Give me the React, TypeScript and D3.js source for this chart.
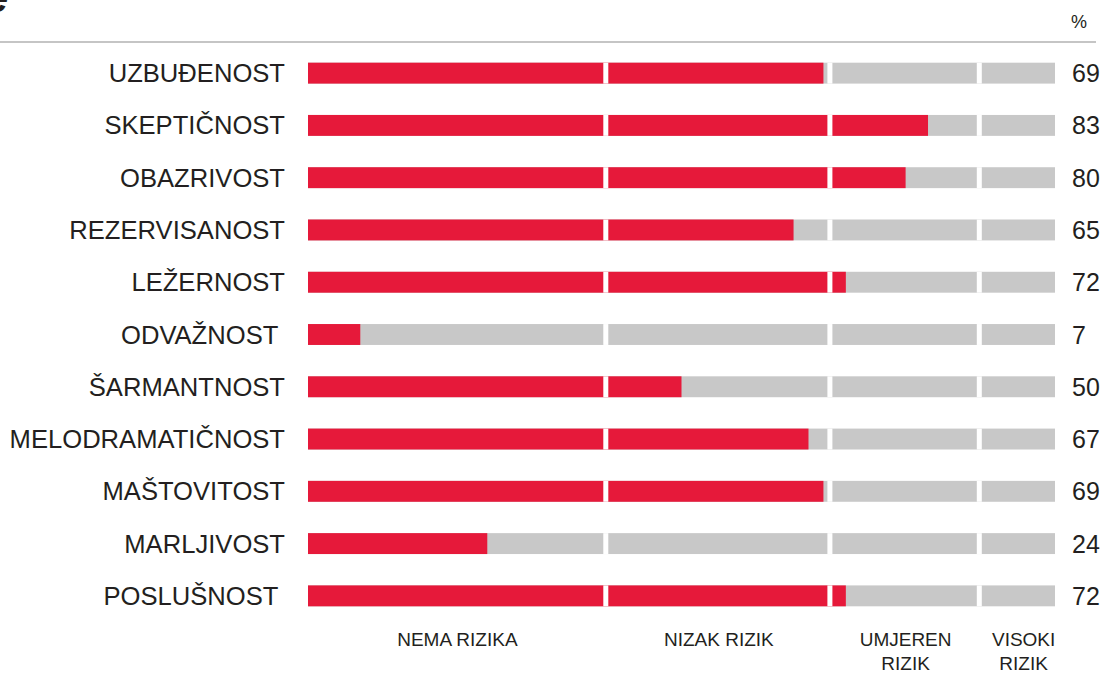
import React, { useEffect, useRef } from "react";
import * as d3 from "d3";

// traits, top to bottom
const traits = [
  "UZBUĐENOST",
  "SKEPTIČNOST",
  "OBAZRIVOST",
  "REZERVISANOST",
  "LEŽERNOST",
  "ODVAŽNOST ",
  "ŠARMANTNOST",
  "MELODRAMATIČNOST",
  "MAŠTOVITOST",
  "MARLJIVOST",
  "POSLUŠNOST ",
];
const scores = [69, 83, 80, 65, 72, 7, 50, 67, 69, 24, 72];

// risk zones on the 0-100 scale
const zoneBreaks = [0, 40, 70, 90, 100];
const zoneLabels = [["NEMA RIZIKA"], ["NIZAK RIZIK"], ["UMJEREN", "RIZIK"], ["VISOKI", "RIZIK"]];

const RED = "#e6193a";
const GREY = "#c8c8c8";
const INK = "#231f20";
const FONT = "'Liberation Sans', Arial, Helvetica, sans-serif";

const App = () => {
  const ref = useRef(null);

  useEffect(() => {
    document.body.style.margin = "0";
    const root = d3.select(ref.current);
    root.selectAll("*").remove();

    const width = 1104;
    const height = 674;
    const svg = root
      .append("svg")
      .attr("width", width)
      .attr("height", height)
      .style("display", "block")
      .style("font-family", FONT);

    const x = d3.scaleLinear().domain([0, 100]).range([308, 1055]);
    const y = d3
      .scaleBand()
      .domain(traits)
      .range([47, 622])
      .paddingInner(0.6)
      .paddingOuter(0.3);
    const bh = y.bandwidth();

    // cut off title remnant + rule
    svg
      .append("text")
      .attr("x", -14)
      .attr("y", 12)
      .attr("font-size", 40)
      .attr("font-weight", "bold")
      .attr("font-style", "italic")
      .attr("fill", INK)
      .text("e");

    svg
      .append("line")
      .attr("x1", 0)
      .attr("x2", 1096)
      .attr("y1", 42)
      .attr("y2", 42)
      .attr("stroke", "#8c8c8c")
      .attr("stroke-width", 1.2);

    svg
      .append("text")
      .attr("x", 1079)
      .attr("y", 28)
      .attr("text-anchor", "middle")
      .attr("font-size", 18)
      .attr("fill", INK)
      .text("%");

    const rows = svg
      .selectAll("g.row")
      .data(traits)
      .enter()
      .append("g")
      .attr("class", "row")
      .attr("transform", (d) => `translate(0, ${y(d)})`);

    rows
      .append("rect")
      .attr("x", x(0))
      .attr("width", x(100) - x(0))
      .attr("height", bh)
      .attr("fill", GREY);

    rows
      .append("rect")
      .attr("x", x(0))
      .attr("width", (d, i) => x(scores[i]) - x(0))
      .attr("height", bh)
      .attr("fill", RED);

    // white gaps between zones
    zoneBreaks.slice(1, -1).forEach((b) => {
      rows
        .append("rect")
        .attr("x", x(b) - 3.5)
        .attr("width", 5)
        .attr("height", bh)
        .attr("fill", "#fff");
    });

    rows
      .append("text")
      .attr("x", 285)
      .attr("y", bh / 2 + 9)
      .attr("text-anchor", "end")
      .attr("font-size", 25.6)
      .attr("fill", INK)
      .style("white-space", "pre")
      .text((d) => d);

    rows
      .append("text")
      .attr("x", 1072)
      .attr("y", bh / 2 + 9)
      .attr("font-size", 25)
      .attr("fill", INK)
      .text((d, i) => scores[i]);

    // zone legend under the bars
    zoneLabels.forEach((lines, i) => {
      const cx = (x(zoneBreaks[i]) + x(zoneBreaks[i + 1])) / 2 + (i === 3 ? 6 : 0);
      lines.forEach((t, j) => {
        svg
          .append("text")
          .attr("x", cx)
          .attr("y", 646 + j * 24)
          .attr("text-anchor", "middle")
          .attr("font-size", 19)
          .attr("fill", INK)
          .text(t);
      });
    });
  }, []);

  return <div ref={ref}></div>;
};

export default App;
